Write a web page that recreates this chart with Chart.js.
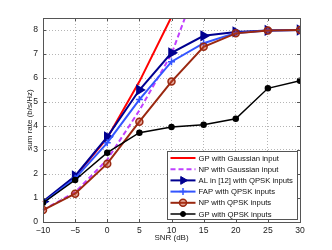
<!DOCTYPE html>
<html>
<head>
<meta charset="utf-8">
<script src="https://cdn.jsdelivr.net/npm/chart.js@4.4.1/dist/chart.umd.min.js"></script>
<style>
  html, body { margin: 0; padding: 0; background: #fff; }
  #wrap { width: 332px; height: 250px; }
</style>
</head>
<body>
<div id="wrap"><canvas id="chart"></canvas></div>
<script>
// SNR points (dB) and sum rates (b/s/Hz)
const snr = [-10, -5, 0, 5, 10, 15, 20, 25, 30]
const gpGaussian = [0.82, 1.88, 3.5, 5.85, 8.55, 11.2, null, null, null]
const npGaussian = [0.5, 1.24, 2.6, 4.65, 7.0, 10.6, null, null, null]
const alQpsk = [0.85, 1.92, 3.55, 5.5, 7.05, 7.76, 7.92, 7.98, 8.0]
const fapQpsk = [0.8, 1.82, 3.3, 5.1, 6.68, 7.45, 7.88, 7.98, 8.0]
const npQpsk = [0.5, 1.18, 2.43, 4.18, 5.85, 7.3, 7.86, 7.98, 8.0]
const gpQpsk = [0.8, 1.75, 2.89, 3.72, 3.96, 4.05, 4.3, 5.57, 5.89]

const xTicks = [-10, -5, 0, 5, 10, 15, 20, 25, 30]
const yTicks = [0, 1, 2, 3, 4, 5, 6, 7, 8]

const labels = [
  'GP with Gaussian input',
  'NP with Gaussian input',
  'AL in [12] with QPSK inputs',
  'FAP with QPSK inputs',
  'NP with QPSK inputs',
  'GP with QPSK inputs'
]

const FONT = '"Liberation Sans", Arial, sans-serif'
const AXIS = '#555'

function points(values) {
  return snr.map((x, i) => ({ x: x, y: values[i] }))
}

const noTopClip = { left: 6, right: 6, bottom: 6, top: 0 }

const datasets = [
  {
    label: labels[0], data: points(gpGaussian),
    borderColor: '#ff0000', backgroundColor: '#ff0000',
    borderWidth: 2, pointRadius: 0, clip: noTopClip
  },
  {
    label: labels[1], data: points(npGaussian),
    borderColor: '#c040ff', backgroundColor: '#c040ff',
    borderWidth: 2, borderDash: [5, 3], pointRadius: 0, clip: noTopClip
  },
  {
    label: labels[2], data: points(alQpsk),
    borderColor: '#000090', backgroundColor: '#000090',
    borderWidth: 2, pointStyle: 'triangle', pointRotation: 90, pointRadius: 4.5
  },
  {
    label: labels[3], data: points(fapQpsk),
    borderColor: '#3355ff', backgroundColor: '#3355ff',
    borderWidth: 2, pointStyle: 'cross', pointRadius: 3.5, pointBorderWidth: 1.5
  },
  {
    label: labels[4], data: points(npQpsk),
    borderColor: '#9a2810', backgroundColor: 'rgba(190,60,30,0.45)',
    borderWidth: 2, pointStyle: 'circle', pointRadius: 3.5, pointBorderWidth: 1.5
  },
  {
    label: labels[5], data: points(gpQpsk),
    borderColor: '#000000', backgroundColor: '#000000',
    borderWidth: 1.5, pointStyle: 'circle', pointRadius: 2.5
  }
]

// later series sit on top, like the original plot
datasets.forEach((d, i) => {
  d.order = datasets.length - i
  d.tension = 0
  d.fill = false
  d.spanGaps = false
})

// Box around the plot with small inward ticks
const axisBox = {
  id: 'axisBox',
  afterDraw(chart) {
    const ctx = chart.ctx
    const a = chart.chartArea
    const xs = chart.scales.x
    const ys = chart.scales.y
    ctx.save()
    ctx.strokeStyle = AXIS
    ctx.lineWidth = 1
    ctx.strokeRect(Math.round(a.left) + 0.5, Math.round(a.top) + 0.5,
      Math.round(a.right - a.left), Math.round(a.bottom - a.top))
    ctx.beginPath()
    xTicks.forEach(v => {
      const px = Math.round(xs.getPixelForValue(v)) + 0.5
      ctx.moveTo(px, a.bottom); ctx.lineTo(px, a.bottom - 3)
      ctx.moveTo(px, a.top); ctx.lineTo(px, a.top + 3)
    })
    yTicks.forEach(v => {
      const py = Math.round(ys.getPixelForValue(v)) + 0.5
      ctx.moveTo(a.left, py); ctx.lineTo(a.left + 3, py)
      ctx.moveTo(a.right, py); ctx.lineTo(a.right - 3, py)
    })
    ctx.stroke()
    ctx.restore()
  }
}

// Legend drawn inside the lower right of the plot
const boxLegend = {
  id: 'boxLegend',
  afterDraw(chart) {
    const ctx = chart.ctx
    const a = chart.chartArea
    const w = 130, h = 68
    const x0 = Math.round(a.right - 133) + 0.5
    const y0 = Math.round(a.bottom - 71) + 0.5
    ctx.save()
    ctx.fillStyle = '#fff'
    ctx.fillRect(x0, y0, w, h)
    ctx.strokeStyle = AXIS
    ctx.lineWidth = 1
    ctx.strokeRect(x0, y0, w, h)

    chart.data.datasets.forEach((d, i) => {
      const cy = y0 + 6.5 + i * 11.2
      ctx.save()
      ctx.strokeStyle = d.borderColor
      ctx.lineWidth = d.borderWidth
      ctx.setLineDash(d.borderDash || [])
      ctx.beginPath()
      ctx.moveTo(x0 + 3, cy)
      ctx.lineTo(x0 + 28, cy)
      ctx.stroke()
      ctx.setLineDash([])
      if (d.pointRadius > 0 && Chart.helpers && Chart.helpers.drawPoint) {
        ctx.fillStyle = d.backgroundColor
        ctx.strokeStyle = d.borderColor
        ctx.lineWidth = d.pointBorderWidth || 1
        Chart.helpers.drawPoint(ctx, {
          pointStyle: d.pointStyle,
          rotation: d.pointRotation || 0,
          radius: d.pointRadius,
          borderWidth: d.pointBorderWidth || 1
        }, x0 + 15.5, cy)
      }
      ctx.restore()
      ctx.fillStyle = '#111'
      ctx.font = '7.7px ' + FONT
      ctx.textBaseline = 'middle'
      ctx.textAlign = 'left'
      ctx.fillText(d.label, x0 + 31, cy + 0.5)
    })
    ctx.restore()
  }
}

const ctx = document.getElementById('chart').getContext('2d')
const chart = new Chart(ctx, {
  type: 'line',
  data: { datasets: datasets },
  options: {
    responsive: true,
    maintainAspectRatio: false,
    animation: false,
    layout: { padding: { left: 0, right: 32, top: 18, bottom: 0 } },
    plugins: {
      legend: { display: false },
      tooltip: { enabled: false }
    },
    scales: {
      x: {
        type: 'linear',
        min: -10,
        max: 30,
        afterBuildTicks: scale => { scale.ticks = xTicks.map(v => ({ value: v })) },
        afterFit: scale => { scale.height = 28 },
        ticks: {
          padding: 3,
          color: '#222',
          font: { family: FONT, size: 8.6 },
          callback: v => String(v).replace('-', '\u2212')
        },
        grid: { color: '#b5b5b5', lineWidth: 1, drawTicks: false },
        border: { display: false, dash: [1, 2] },
        title: {
          display: true,
          text: 'SNR (dB)',
          color: '#222',
          font: { family: FONT, size: 8 },
          padding: { top: 0, bottom: 7 }
        }
      },
      y: {
        type: 'linear',
        min: 0,
        max: 8.5,
        afterBuildTicks: scale => { scale.ticks = yTicks.map(v => ({ value: v })) },
        afterFit: scale => { scale.width = 43 },
        ticks: {
          padding: 5,
          color: '#222',
          font: { family: FONT, size: 8.6 }
        },
        grid: { color: '#b5b5b5', lineWidth: 1, drawTicks: false },
        border: { display: false, dash: [1, 2] },
        title: {
          display: true,
          text: 'sum rate (b/s/Hz)',
          color: '#222',
          font: { family: FONT, size: 8 },
          padding: { top: 25, bottom: 0 }
        }
      }
    }
  },
  plugins: [axisBox, boxLegend]
})
</script>
</body>
</html>
